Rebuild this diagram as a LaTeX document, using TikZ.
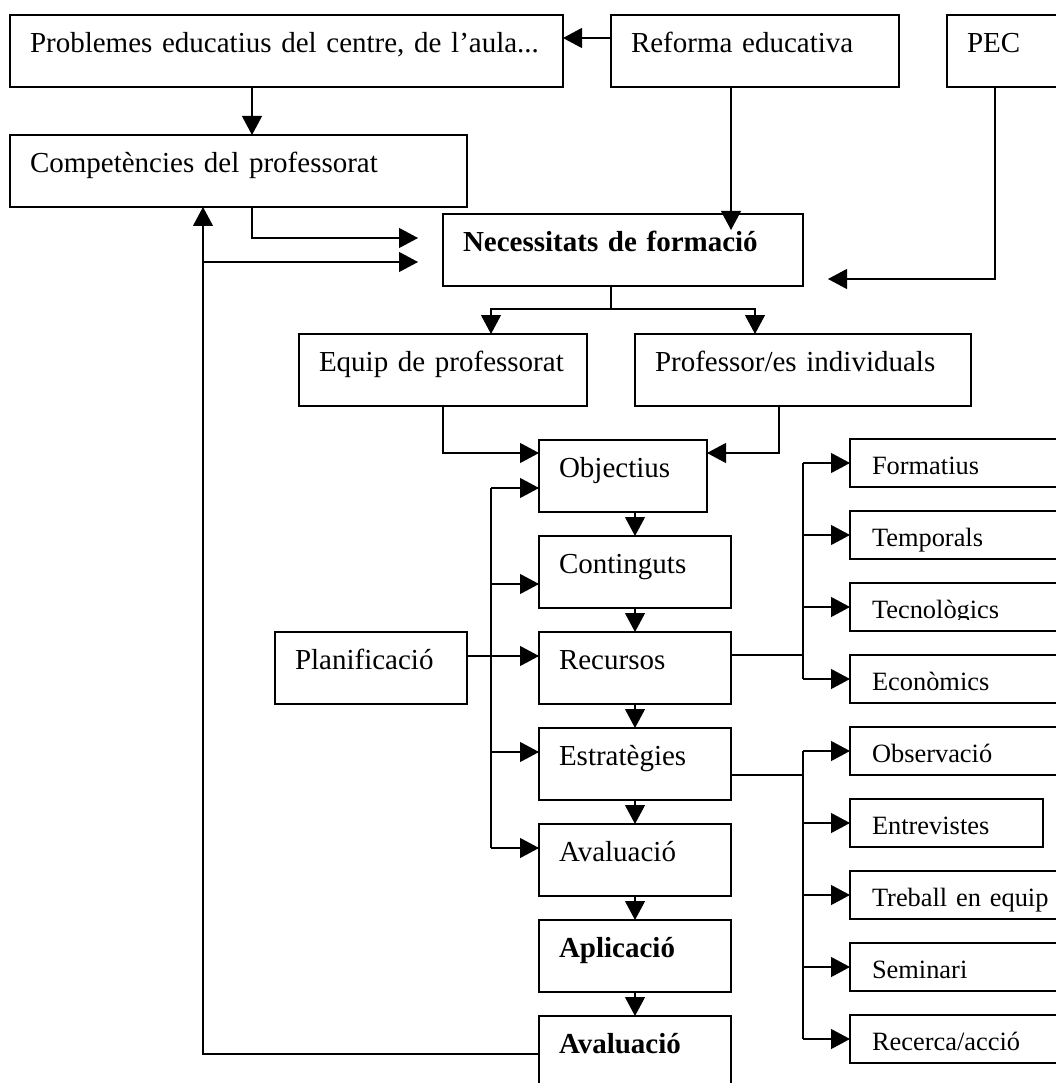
\documentclass[tikz,border=0pt]{standalone}
\usepackage{fontspec}
\setmainfont{Liberation Serif}
\usetikzlibrary{arrows.meta,calc}
\newcommand\mainsz{\fontsize{29pt}{34pt}\selectfont}
\newcommand\smallsz{\fontsize{26.4pt}{31pt}\selectfont}
\begin{document}
\begin{tikzpicture}[x=1pt,y=-1pt,
  box/.style={draw, line width=1.4pt, anchor=north west, outer sep=0pt,
    inner ysep=0pt, inner xsep=20pt, align=left, font=\mainsz,
    text height=37.5pt, text depth=34.5pt},
  sbox/.style={box, inner xsep=22pt, font=\smallsz,
    text height=35pt, text depth=13pt},
  conn/.style={line width=1.1pt},
  arr/.style={conn, -{Triangle[length=19pt,width=20pt]}}]
\path[use as bounding box, fill=white] (0,0) rectangle (1055,1083);

% --- upper boxes
\node[box, text width=513pt] (prob) at (10,15) {Problemes educatius del centre, de l’aula...};
\node[box, text width=248pt] (ref) at (611,15) {Reforma educativa};
\node[box, text width=160pt] (pec) at (947,15) {PEC};
\node[box, text width=417pt] (comp) at (10,135) {Competències del professorat};
\node[box, text width=320pt, font=\mainsz\bfseries] (nec) at (443,214) {Necessitats de formació};
\node[box, text width=248pt] (equip) at (299,334) {Equip de professorat};
\node[box, text width=296pt] (prof) at (635,334) {Professor/es individuals};

% --- planning chain
\node[box, text width=128pt] (obj) at (539,440) {Objectius};
\node[box, text width=152pt] (cont) at (539,536) {Continguts};
\node[box, text width=152pt] (rec) at (539,632) {Recursos};
\node[box, text width=152pt] (plan) at (275,632) {Planificació};
\node[box, text width=152pt] (estr) at (539,728) {Estratègies};
\node[box, text width=152pt] (aval) at (539,824) {Avaluació};
\node[box, text width=152pt, font=\mainsz\bfseries] (apl) at (539,920) {Aplicació};
\node[box, text width=152pt, font=\mainsz\bfseries] (aval2) at (539,1016) {Avaluació};

% --- resources and strategies
\node[sbox, text width=216pt] (form) at (850,439) {Formatius};
\node[sbox, text width=216pt] (temp) at (850,511) {Temporals};
\node[sbox, text width=216pt] (tecn) at (850,583) {Tecnològics};
\node[sbox, text width=216pt] (econ) at (850,655) {Econòmics};
\node[sbox, text width=216pt] (obs) at (850,727) {Observació};
\node[sbox, text width=149pt] (entr) at (850,799) {Entrevistes};
\node[sbox, text width=216pt] (treb) at (850,871) {Treball en equip};
\node[sbox, text width=216pt] (semi) at (850,943) {Seminari};
\node[sbox, text width=216pt] (rece) at (850,1015) {Recerca/acció};
% the text frame cuts off the descenders of this label
\fill[white] ($(tecn.south west)+(1.5,-11)$) rectangle ($(tecn.south west)+(205,-1.5)$);

% --- connectors, top part
\draw[arr] ($(ref.north west)+(0,23)$) -- ($(prob.north east)+(0,23)$);
\draw[arr] ($(prob.south west)+(242,0)$) -- ($(comp.north west)+(242,0)$);
\draw[arr] ($(comp.south west)+(242,0)$) |- ($(nec.north west)+(-25,24)$);
\draw[arr] ($(aval2.north west)+(0,38)$) -| ($(comp.south west)+(193,0)$);
\draw[arr] ($(comp.south west)+(193,55)$) -- ($(nec.north west)+(-25,48)$);
\draw[arr] ($(ref.south west)+(120,0)$) -- ($(nec.north west)+(288,16)$);
\draw[arr] ($(pec.south west)+(48,0)$) |- ($(nec.south east)+(25,-7)$);
\coordinate (split) at ($(nec.south west)+(168,23)$);
\draw[conn] ($(nec.south west)+(168,0)$) -- (split);
\draw[arr] (split) -| ($(equip.north west)+(192,0)$);
\draw[arr] (split) -| ($(prof.north west)+(120,0)$);
\draw[arr] ($(equip.south west)+(144,0)$) |- ($(obj.north west)+(0,13)$);
\draw[arr] ($(prof.south west)+(144,0)$) |- ($(obj.north east)+(0,13)$);

% --- planning bus
\coordinate (bustop) at ($(obj.north west)+(-48,48)$);
\coordinate (busbot) at ($(aval.north west)+(-48,24)$);
\draw[conn] (bustop) -- (busbot);
\draw[arr] (bustop) -- ($(obj.north west)+(0,48)$);
\draw[arr] ($(cont.north west)+(-48,48)$) -- ($(cont.north west)+(0,48)$);
\draw[arr] ($(plan.north east)+(0,24)$) -- ($(rec.north west)+(0,24)$);
\draw[arr] ($(estr.north west)+(-48,24)$) -- ($(estr.north west)+(0,24)$);
\draw[arr] (busbot) -- ($(aval.north west)+(0,24)$);

% --- main sequence
\draw[arr] ($(obj.south west)+(96,0)$) -- (cont.north);
\draw[arr] (cont.south) -- (rec.north);
\draw[arr] (rec.south) -- (estr.north);
\draw[arr] (estr.south) -- (aval.north);
\draw[arr] (aval.south) -- (apl.north);
\draw[arr] (apl.south) -- (aval2.north);

% --- branches to the right
\draw[conn] ($(rec.north east)+(0,23)$) -- ($(rec.north east)+(72,23)$);
\draw[conn] ($(form.west)+(-47,0)$) -- ($(econ.west)+(-47,0)$);
\foreach \n in {form,temp,tecn,econ}
  \draw[arr] ($(\n.west)+(-47,0)$) -- (\n.west);
\draw[conn] ($(estr.north east)+(0,47)$) -- ($(estr.north east)+(72,47)$);
\draw[conn] ($(obs.west)+(-47,0)$) -- ($(rece.west)+(-47,0)$);
\foreach \n in {obs,entr,treb,semi,rece}
  \draw[arr] ($(\n.west)+(-47,0)$) -- (\n.west);
\end{tikzpicture}
\end{document}
